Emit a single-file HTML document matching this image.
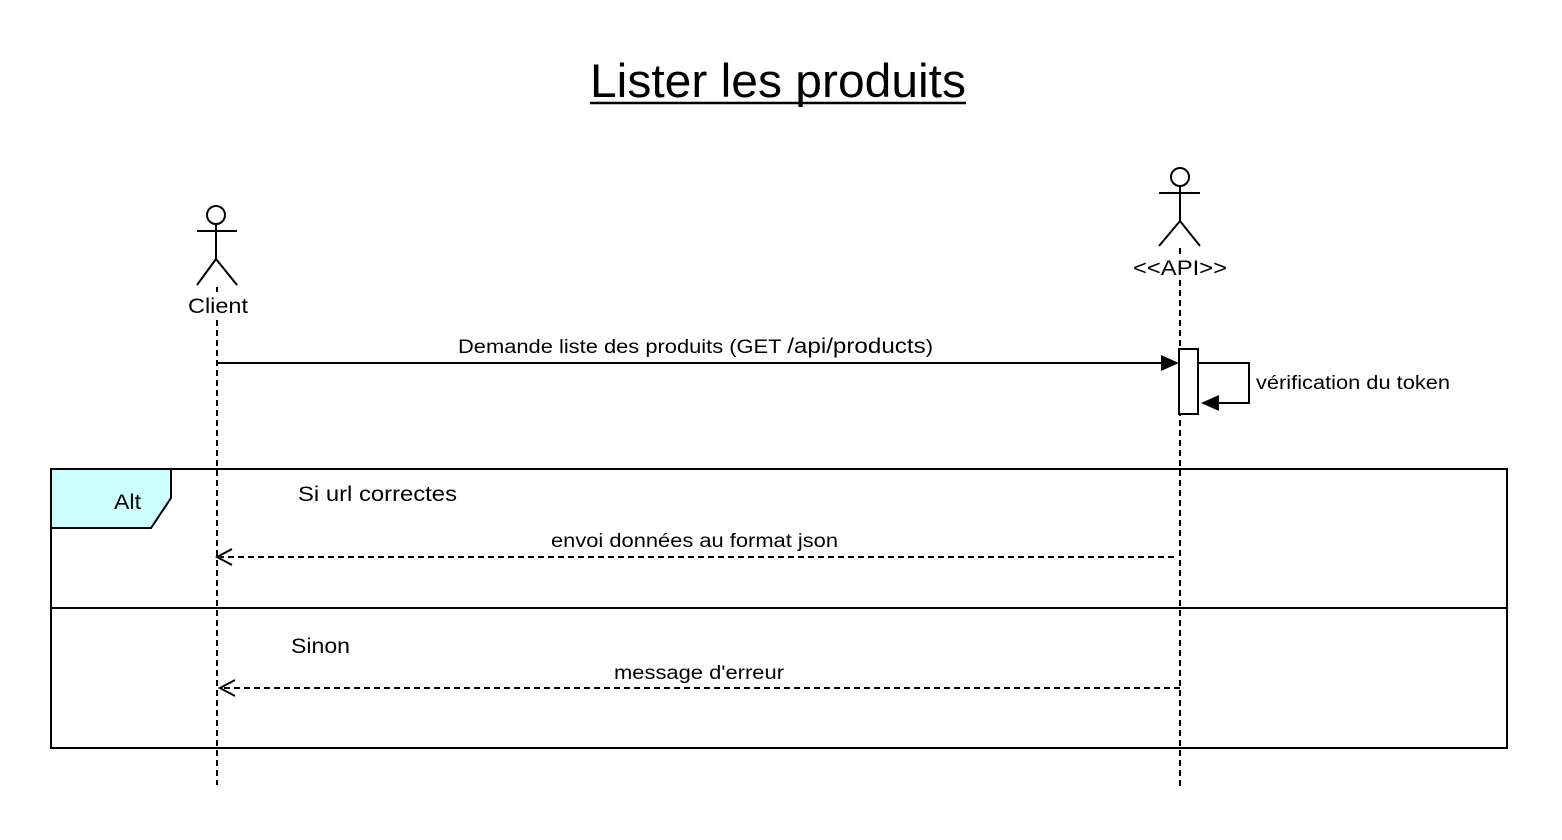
<!DOCTYPE html>
<html><head><meta charset="utf-8"><style>
html,body{margin:0;padding:0;background:#fff;}
svg{display:block;font-family:"Liberation Sans",Arial,sans-serif;}
</style></head><body>
<svg width="1562" height="840" viewBox="0 0 1562 840" xmlns="http://www.w3.org/2000/svg">
<rect width="1562" height="840" fill="#fff"/>
<text x="590" y="97" font-size="47" textLength="376" lengthAdjust="spacingAndGlyphs" fill="#000">Lister les produits</text>
<line x1="590" y1="103" x2="966" y2="103" stroke="#000" stroke-width="2.5"/>

<g stroke="#000" stroke-width="2" fill="none">
<circle cx="216" cy="215" r="9" fill="#fff"/>
<line x1="197" y1="231" x2="237" y2="231"/>
<line x1="216" y1="224" x2="216" y2="259"/>
<line x1="216" y1="259" x2="197" y2="285"/>
<line x1="216" y1="259" x2="237" y2="285"/>
<circle cx="1180" cy="177" r="9" fill="#fff"/>
<line x1="1159" y1="193" x2="1200" y2="193"/>
<line x1="1180" y1="186" x2="1180" y2="221"/>
<line x1="1180" y1="221" x2="1159" y2="246"/>
<line x1="1180" y1="221" x2="1200" y2="246"/>
<line x1="217" y1="287" x2="217" y2="296" stroke-dasharray="6,4"/>
<line x1="217" y1="320" x2="217" y2="785" stroke-dasharray="6,4"/>
<line x1="1180" y1="248" x2="1180" y2="258" stroke-dasharray="6,4"/>
<line x1="1180" y1="280" x2="1180" y2="790" stroke-dasharray="6,4"/>
<rect x="51" y="469" width="1456" height="279" stroke-width="2"/>
<line x1="51" y1="608" x2="1507" y2="608"/>
<polygon points="51,469 171,469 171,498 151,528 51,528" fill="#ccffff"/>
<line x1="217" y1="363" x2="1164" y2="363"/>
<polyline points="1198,363 1249,363 1249,403 1216,403"/>
<line x1="1174" y1="557" x2="220" y2="557" stroke-dasharray="6,4"/>
<polyline points="232,549 217,557 232,565"/>
<line x1="1180" y1="688" x2="222" y2="688" stroke-dasharray="6,4"/>
<polyline points="235,680 220,688 235,696"/>
</g>
<rect x="1179" y="349" width="19" height="65" fill="#fff" stroke="#000" stroke-width="2"/>
<polygon points="1179,363 1161,355 1161,371" fill="#000"/>
<polygon points="1201,403 1219,395 1219,411" fill="#000"/>

<g fill="#000" font-size="21">
<rect x="180" y="292" width="74" height="26" fill="#fff"/>
<text x="188" y="313" textLength="60" lengthAdjust="spacingAndGlyphs">Client</text>
<rect x="1130" y="256" width="100" height="24" fill="#fff"/>
<text x="1133" y="275" textLength="94" lengthAdjust="spacingAndGlyphs">&lt;&lt;API&gt;&gt;</text>
<text x="114" y="509" textLength="27" lengthAdjust="spacingAndGlyphs">Alt</text>
<text x="298" y="501" textLength="159" lengthAdjust="spacingAndGlyphs">Si url correctes</text>
<text x="291" y="653" textLength="59" lengthAdjust="spacingAndGlyphs">Sinon</text>
</g>
<g fill="#000" font-size="19">
<text x="458" y="353" textLength="475" lengthAdjust="spacingAndGlyphs">Demande liste des produits (GET <tspan font-size="21">/api/products</tspan>)</text>
<text x="1256" y="389" textLength="194" lengthAdjust="spacingAndGlyphs">vérification du token</text>
<text x="551" y="547" textLength="287" lengthAdjust="spacingAndGlyphs">envoi données au format json</text>
<text x="614" y="679" textLength="170" lengthAdjust="spacingAndGlyphs">message d'erreur</text>
</g>
</svg>
</body></html>
